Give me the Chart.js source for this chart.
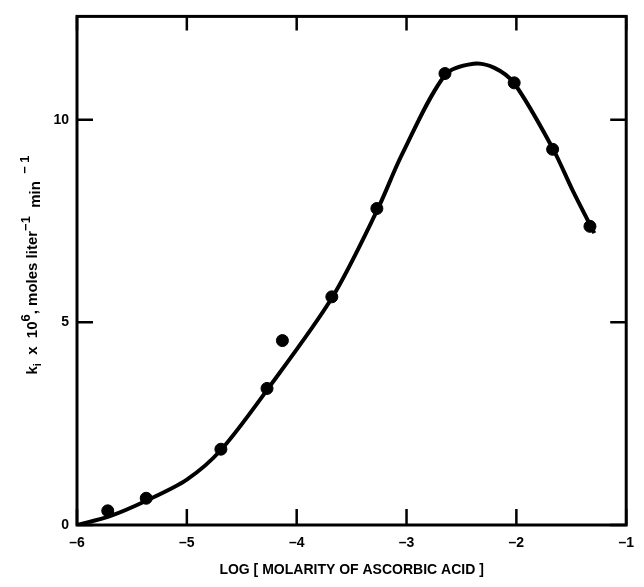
<!DOCTYPE html>
<html>
<head>
<meta charset="utf-8">
<script src="https://cdn.jsdelivr.net/npm/chart.js@4"></script>
<style>
  html, body { margin: 0; padding: 0; background: #fff; }
  #wrap { width: 644px; height: 587px; }
</style>
</head>
<body>
<div id="wrap"><canvas id="graph" width="644" height="587"></canvas></div>
<script>
// measured points
let logMolarity = [-5.72, -5.37, -4.69, -4.27, -4.13, -3.68, -3.27, -2.65, -2.02, -1.67, -1.33]
let rateK = [0.35, 0.66, 1.87, 3.37, 4.55, 5.63, 7.81, 11.14, 10.91, 9.27, 7.37]

// smooth fitted curve
let curveX = [-6, -5.7, -5.37, -5, -4.69, -4.27, -3.68, -3.27, -3.04, -2.65, -2.39, -2.2, -2.02, -1.67, -1.49, -1.29]
let curveY = [0, 0.22, 0.6, 1.12, 1.85, 3.33, 5.6, 7.75, 9.15, 11.1, 11.38, 11.28, 10.9, 9.3, 8.27, 7.2]

let xTicks = [-6, -5, -4, -3, -2, -1]
let yTicks = [0, 5, 10]

let family = 'Liberation Sans, Arial, sans-serif'
let font = { family: family, size: 14, weight: 'bold' }

// y title pieces: text, font size, baseline shift
let yTitle = [
    ['k', 15, 0],
    ['i', 11, 4],
    ['  x  10', 15, 0],
    ['6', 13, -7],
    [', moles liter', 15, 0],
    ['\u2212', 13, -7],
    ['1', 13, -7],
    ['  min', 15, 3],
    ['  \u2212 ', 13, -8],
    ['1', 13, -8]
]

// frame, inward tick marks and y title
let framePlugin = {
    id: 'frame',
    afterDraw(chart) {
        let ctx = chart.ctx
        let a = chart.chartArea
        let xs = chart.scales.x
        let ys = chart.scales.y
        ctx.save()
        ctx.strokeStyle = '#000'
        ctx.lineWidth = 3
        ctx.strokeRect(a.left, a.top, a.right - a.left, a.bottom - a.top)
        ctx.lineWidth = 2.5
        ctx.beginPath()
        xTicks.forEach(function(v) {
            let px = xs.getPixelForValue(v)
            ctx.moveTo(px, a.bottom)
            ctx.lineTo(px, a.bottom - 16)
            ctx.moveTo(px, a.top)
            ctx.lineTo(px, a.top + 14)
        })
        yTicks.forEach(function(v) {
            let py = ys.getPixelForValue(v)
            ctx.moveTo(a.left, py)
            ctx.lineTo(a.left + 16, py)
            ctx.moveTo(a.right, py)
            ctx.lineTo(a.right - 16, py)
        })
        ctx.stroke()

        // rotated y title with sub/superscripts
        let total = 0
        yTitle.forEach(function(p) {
            ctx.font = 'bold ' + p[1] + 'px ' + family
            total += ctx.measureText(p[0]).width
        })
        ctx.translate(37, 265)
        ctx.rotate(-Math.PI / 2)
        ctx.fillStyle = '#000'
        ctx.textBaseline = 'alphabetic'
        let x = -total / 2
        yTitle.forEach(function(p) {
            ctx.font = 'bold ' + p[1] + 'px ' + family
            ctx.fillText(p[0], x, p[2])
            x += ctx.measureText(p[0]).width
        })
        ctx.restore()
    }
}

new Chart(document.getElementById('graph').getContext('2d'), {
    type: 'scatter',
    data: {
        datasets: [
            {
                label: 'fit',
                data: curveX.map(function(x, i) { return { x: x, y: curveY[i] } }),
                showLine: true,
                borderColor: '#000',
                borderWidth: 4,
                tension: 0.3,
                pointRadius: 0
            },
            {
                label: 'measured',
                data: logMolarity.map(function(x, i) { return { x: x, y: rateK[i] } }),
                showLine: false,
                pointRadius: 6,
                pointBackgroundColor: '#000',
                pointBorderColor: '#000'
            }
        ]
    },
    options: {
        responsive: false,
        animation: false,
        layout: { padding: { top: 13, right: 12, left: 0, bottom: 0 } },
        plugins: {
            legend: { display: false },
            tooltip: { enabled: false }
        },
        scales: {
            x: {
                type: 'linear',
                min: -6,
                max: -1,
                afterFit: function(s) { s.height = 62 },
                afterBuildTicks: function(s) { s.ticks = xTicks.map(function(v) { return { value: v } }) },
                grid: { display: false, drawTicks: false },
                border: { display: false },
                ticks: {
                    color: '#000',
                    font: font,
                    padding: 10,
                    callback: function(v) { return '\u2013' + Math.abs(v) }
                },
                title: {
                    display: true,
                    text: 'LOG [ MOLARITY OF ASCORBIC ACID ]',
                    color: '#000',
                    font: font,
                    padding: { top: 0, bottom: 8 }
                }
            },
            y: {
                type: 'linear',
                min: 0,
                max: 12.55,
                afterFit: function(s) { s.width = 77 },
                afterBuildTicks: function(s) { s.ticks = yTicks.map(function(v) { return { value: v } }) },
                grid: { display: false, drawTicks: false },
                border: { display: false },
                ticks: {
                    color: '#000',
                    font: font,
                    padding: 8
                },
                title: { display: false }
            }
        }
    },
    plugins: [framePlugin]
})
</script>
</body>
</html>
